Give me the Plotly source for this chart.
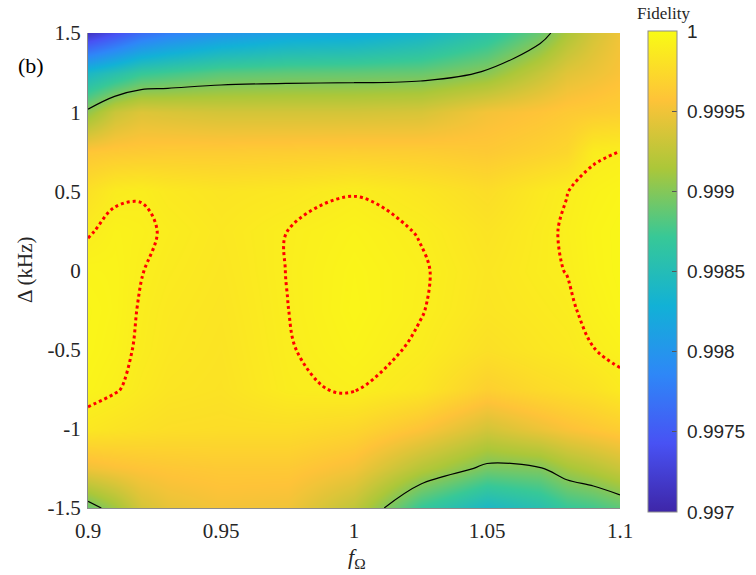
import plotly.graph_objects as go

f_omega = [0.90, 0.91, 0.92, 0.93, 0.95, 0.975, 1.00, 1.025, 1.05, 1.07, 1.08, 1.09, 1.10]
delta_khz = [-1.5, -1.25, -1.0, -0.75, -0.5, -0.25, 0.0, 0.25, 0.5, 0.75, 1.0, 1.25, 1.5]

# Infidelity (1 - F) in units of 1e-4, one list per f_Omega column, ordered by delta_khz
col_090 = [11.0, 5.0, 1.5, 0.6, 0.45, 0.4, 0.55, 1.1, 2.0, 4.0, 9.5, 16.0, 28.5]
col_091 = [9.0, 4.5, 1.8, 0.9, 0.7, 0.6, 0.6, 0.7, 1.2, 3.8, 7.0, 14.5, 26.0]
col_092 = [6.5, 4.2, 2.0, 1.35, 1.15, 1.08, 0.97, 0.85, 1.06, 3.7, 6.0, 13.0, 23.5]
col_093 = [5.5, 4.0, 2.2, 1.7, 1.5, 1.4, 1.25, 1.1, 1.4, 3.6, 6.2, 12.5, 22.0]
col_095 = [4.8, 3.8, 2.3, 1.9, 1.8, 1.7, 1.6, 1.5, 1.7, 3.6, 6.5, 11.6, 20.0]
col_0975 = [5.0, 3.8, 2.3, 1.15, 1.06, 1.01, 0.98, 1.0, 1.5, 3.5, 6.5, 11.3, 18.5]
col_100 = [7.5, 4.8, 2.8, 0.9, 0.6, 0.45, 0.5, 0.65, 1.05, 3.4, 6.5, 11.2, 18.0]
col_1025 = [13.0, 8.0, 4.3, 1.6, 1.15, 0.95, 0.9, 1.05, 1.6, 3.5, 6.3, 11.0, 16.5]
col_105 = [16.0, 10.5, 6.5, 3.3, 2.1, 1.7, 1.6, 1.8, 2.3, 3.8, 4.8, 9.8, 14.0]
col_107 = [14.5, 10.15, 5.2, 2.5, 1.6, 1.35, 1.15, 1.2, 1.4, 3.2, 4.2, 7.2, 11.0]
col_108 = [13.0, 8.8, 4.5, 2.2, 1.4, 1.15, 0.98, 0.9, 1.02, 2.8, 3.8, 5.8, 8.5]
col_109 = [12.5, 8.0, 4.0, 1.9, 1.02, 0.75, 0.6, 0.55, 0.7, 1.15, 3.6, 5.2, 6.5]
col_110 = [11.5, 7.0, 3.5, 1.3, 0.75, 0.45, 0.35, 0.35, 0.5, 0.98, 3.4, 4.5, 5.0]

columns = [col_090, col_091, col_092, col_093, col_095, col_0975, col_100,
           col_1025, col_105, col_107, col_108, col_109, col_110]

# Fidelity matrix z[row=delta][col=f_omega]
fidelity = [[1.0 - columns[j][i] * 1e-4 for j in range(len(f_omega))]
            for i in range(len(delta_khz))]

black_level = 0.999
red_level = 0.9999

cbar_ticks = [0.997, 0.9975, 0.998, 0.9985, 0.999, 0.9995, 1.0]
cbar_text = ["0.997", "0.9975", "0.998", "0.9985", "0.999", "0.9995", "1"]
x_ticks = [0.9, 0.95, 1.0, 1.05, 1.1]
x_text = ["0.9", "0.95", "1", "1.05", "1.1"]
y_ticks = [-1.5, -1.0, -0.5, 0.0, 0.5, 1.0, 1.5]
y_text = ["-1.5", "-1", "-0.5", "0", "0.5", "1", "1.5"]

parula = [
    [0 / 7, "rgb(62,38,168)"],
    [1 / 7, "rgb(72,82,244)"],
    [2 / 7, "rgb(46,135,247)"],
    [3 / 7, "rgb(18,177,214)"],
    [4 / 7, "rgb(55,200,151)"],
    [5 / 7, "rgb(171,199,57)"],
    [6 / 7, "rgb(254,195,56)"],
    [7 / 7, "rgb(249,251,21)"],
]

W, H = 756, 575
L, R, T, B = 88, 620, 33, 508
pw, ph = R - L, B - T


def px(xp):
    return (xp - L) / pw


def py(yp):
    return (B - yp) / ph


serif = "Liberation Serif"
sans = "Liberation Sans"
NB = "\u00a0"

fig = go.Figure()
fig.add_trace(go.Heatmap(
    x=f_omega, y=delta_khz, z=fidelity, zsmooth="best",
    zmin=0.997, zmax=1.0, colorscale=parula,
    colorbar=dict(
        x=px(648), xanchor="left", xpad=0, ypad=0,
        y=py(271.5), yanchor="middle", len=(512 - 31) / ph, lenmode="fraction",
        thickness=29, thicknessmode="pixels",
        outlinecolor="#8c8c8c", outlinewidth=1,
        tickmode="array", tickvals=cbar_ticks, ticktext=[NB + t for t in cbar_text],
        ticks="inside", ticklen=5, tickcolor="#555555",
        tickfont=dict(family=sans, size=19, color="#262626"),
    ),
    hoverinfo="skip",
))
fig.add_trace(go.Contour(
    x=f_omega, y=delta_khz, z=fidelity, showscale=False,
    contours=dict(coloring="none", start=black_level, end=black_level, size=0.001),
    line=dict(color="black", width=1.2, smoothing=1.0),
    hoverinfo="skip",
))
fig.add_trace(go.Contour(
    x=f_omega, y=delta_khz, z=fidelity, showscale=False,
    contours=dict(coloring="none", start=red_level, end=red_level, size=0.0001),
    line=dict(color="red", width=3, dash="3px,3px", smoothing=1.0),
    hoverinfo="skip",
))

fig.update_layout(
    width=W, height=H,
    margin=dict(l=L, r=W - R, t=T, b=H - B, autoexpand=False),
    paper_bgcolor="white", plot_bgcolor="white",
    showlegend=False,
    xaxis=dict(range=[0.9, 1.1], tickmode="array", tickvals=x_ticks, ticktext=x_text,
               showline=True, linecolor="#8c8c8c", linewidth=1, showgrid=False,
               zeroline=False, ticks="", mirror=False, ticklabelstandoff=4,
               tickfont=dict(family=serif, size=21, color="#262626")),
    yaxis=dict(range=[-1.5, 1.5], tickmode="array", tickvals=y_ticks, ticktext=y_text,
               showline=True, linecolor="#8c8c8c", linewidth=1, showgrid=False,
               zeroline=False, ticks="", mirror=False, ticklabelstandoff=2,
               tickfont=dict(family=serif, size=21, color="#262626")),
    annotations=[
        dict(text="(b)", x=px(31), y=py(65), xref="paper", yref="paper",
             xanchor="center", yanchor="middle",
             showarrow=False, font=dict(family=serif, size=22, color="#000000")),
        dict(text="Fidelity", x=px(663), y=py(13), xref="paper", yref="paper",
             xanchor="center", yanchor="middle",
             showarrow=False, font=dict(family=serif, size=17, color="#262626")),
        dict(text="<i>f</i><sub>Ω</sub>", x=px(357), y=py(558), xref="paper", yref="paper",
             xanchor="center", yanchor="middle",
             showarrow=False, font=dict(family=serif, size=22, color="#262626")),
        dict(text="Δ (kHz)", x=px(25), y=py(270), xref="paper", yref="paper",
             xanchor="center", yanchor="middle",
             textangle=-90, showarrow=False, font=dict(family=serif, size=21, color="#262626")),
    ],
)

fig.write_html("out.html")
